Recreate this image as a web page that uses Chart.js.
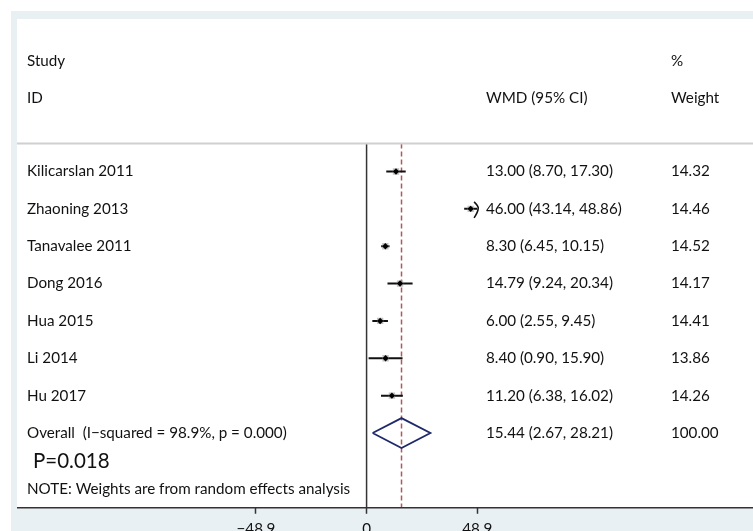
<!DOCTYPE html>
<html>
<head>
<meta charset="utf-8">
<script src="https://cdn.jsdelivr.net/npm/chart.js@4.4.0/dist/chart.umd.min.js"></script>
<style>
  html, body { margin: 0; padding: 0; overflow: hidden; background: #fff; }
  canvas { display: block; }
</style>
</head>
<body>
<canvas id="forestChart" width="753" height="544"></canvas>
<script>
// Study data
const studies = ['Kilicarslan 2011', 'Zhaoning 2013', 'Tanavalee 2011', 'Dong 2016', 'Hua 2015', 'Li 2014', 'Hu 2017'];
const wmd = [13.00, 46.00, 8.30, 14.79, 6.00, 8.40, 11.20];
const lower = [8.70, 43.14, 6.45, 9.24, 2.55, 0.90, 6.38];
const upper = [17.30, 48.86, 10.15, 20.34, 9.45, 15.90, 16.02];
const weights = ['14.32', '14.46', '14.52', '14.17', '14.41', '13.86', '14.26'];

// Pooled estimate
const overallWmd = 15.44;
const overallLower = 2.67;
const overallUpper = 28.21;
const overallWeight = '100.00';
const overallLabel = 'Overall  (I\u2212squared = 98.9%, p = 0.000)';

const xTicks = [-48.9, 0, 48.9];

const FONT = 'Lato';
const TEXT = '#111';

function fmt(v) { return v.toFixed(2); }

const overallRow = studies.length;

// one line per confidence interval
const ciSets = studies.map((s, i) => ({
    type: 'line',
    data: [{ x: lower[i], y: i }, { x: upper[i], y: i }],
    borderColor: '#111',
    borderWidth: 2,
    pointRadius: 0,
    order: 2
}));

const textPlugin = {
    id: 'forestText',
    beforeDraw(chart) {
        const c = chart.ctx;
        c.save();
        c.fillStyle = '#ffffff';
        c.fillRect(0, 0, chart.width, chart.height);
        c.fillStyle = '#e8f0f3';
        c.fillRect(11, 11, chart.width - 11, chart.height - 11);
        c.fillStyle = '#ffffff';
        c.fillRect(17, 19, chart.width - 17, chart.chartArea.bottom - 19);
        c.restore();
    },
    afterDatasetsDraw(chart) {
        const c = chart.ctx;
        const y = chart.scales.y;
        const x = chart.scales.x;
        c.save();
        c.fillStyle = TEXT;
        c.textBaseline = 'middle';
        c.font = '15.2px ' + FONT;

        // header
        c.fillText('Study', 27, y.getPixelForValue(-2.95));
        c.fillText('ID', 27, y.getPixelForValue(-1.96));
        c.fillText('%', 671, y.getPixelForValue(-2.95));
        c.fillText('Weight', 671, y.getPixelForValue(-1.96));
        c.fillText('WMD (95% CI)', 486, y.getPixelForValue(-1.96));

        // header separator
        c.strokeStyle = '#d0d0d0';
        c.lineWidth = 2;
        c.beginPath();
        const sy = y.getPixelForValue(-0.75);
        c.moveTo(17, sy);
        c.lineTo(chart.width, sy);
        c.stroke();

        studies.forEach((s, i) => {
            const py = y.getPixelForValue(i);
            c.fillText(s, 27, py);
            c.fillText(fmt(wmd[i]) + ' (' + fmt(lower[i]) + ', ' + fmt(upper[i]) + ')', 486, py);
            c.fillText(weights[i], 671, py);
        });

        const oy = y.getPixelForValue(overallRow);
        c.fillText(overallLabel, 27, oy);
        c.fillText(fmt(overallWmd) + ' (' + fmt(overallLower) + ', ' + fmt(overallUpper) + ')', 486, oy);
        c.fillText(overallWeight, 671, oy);

        c.font = '20.5px ' + FONT;
        c.fillText('P=0.018', 33, y.getPixelForValue(overallRow + 0.75));
        c.font = '15.2px ' + FONT;
        c.fillText('NOTE: Weights are from random effects analysis', 27, y.getPixelForValue(overallRow + 1.51));

        // arrow where a CI runs past the plotted range
        upper.forEach((u, i) => {
            if (u > xTicks[2] - 0.1) {
                const ax = x.getPixelForValue(u);
                const ay = y.getPixelForValue(i);
                c.strokeStyle = '#111';
                c.lineWidth = 1.6;
                c.beginPath();
                c.moveTo(ax - 3, ay - 7);
                c.quadraticCurveTo(ax + 2, ay - 2, ax + 1, ay);
                c.quadraticCurveTo(ax + 1, ay + 3, ax - 3, ay + 9);
                c.stroke();
            }
        });

        // axis line across the full width
        c.strokeStyle = '#333';
        c.lineWidth = 1.5;
        c.beginPath();
        c.moveTo(17, chart.chartArea.bottom);
        c.lineTo(chart.width, chart.chartArea.bottom);
        c.stroke();
        c.restore();
    }
};

const ctx = document.getElementById('forestChart').getContext('2d');
const forestChart = new Chart(ctx, {
    type: 'scatter',
    data: {
        datasets: [
            // null line
            {
                type: 'line',
                data: [{ x: 0, y: -0.75 }, { x: 0, y: overallRow + 2 }],
                borderColor: '#333',
                borderWidth: 1.5,
                pointRadius: 0,
                order: 4
            },
            // pooled estimate line
            {
                type: 'line',
                data: [{ x: overallWmd, y: -0.75 }, { x: overallWmd, y: overallRow + 2 }],
                borderColor: '#b5565a',
                borderWidth: 1.5,
                borderDash: [5, 3],
                pointRadius: 0,
                order: 3
            },
            ...ciSets,
            // weight boxes
            {
                data: wmd.map((v, i) => ({ x: v, y: i })),
                pointStyle: 'rect',
                pointRadius: 4.5,
                backgroundColor: 'rgba(170,170,170,0.7)',
                borderWidth: 0,
                order: 1
            },
            // point estimates
            {
                data: wmd.map((v, i) => ({ x: v, y: i })),
                pointStyle: 'rectRot',
                pointRadius: 3.2,
                backgroundColor: '#000',
                borderWidth: 0,
                order: 0
            },
            // overall diamond
            {
                type: 'line',
                data: [
                    { x: overallLower, y: overallRow },
                    { x: overallWmd, y: overallRow - 0.4 },
                    { x: overallUpper, y: overallRow },
                    { x: overallWmd, y: overallRow + 0.4 },
                    { x: overallLower, y: overallRow }
                ],
                borderColor: '#1f2a6b',
                borderWidth: 1.8,
                pointRadius: 0,
                tension: 0,
                order: 0
            }
        ]
    },
    options: {
        responsive: false,
        animation: false,
        devicePixelRatio: 1,
        layout: { padding: { top: 22, left: 17, right: 0, bottom: 0 } },
        plugins: {
            legend: { display: false },
            tooltip: { enabled: false }
        },
        scales: {
            x: {
                type: 'linear',
                min: -154.5,
                max: 168.8,
                afterBuildTicks: (axis) => { axis.ticks = xTicks.map(v => ({ value: v })); },
                grid: {
                    drawOnChartArea: false,
                    drawTicks: true,
                    tickLength: 6,
                    tickWidth: 1.5,
                    color: '#333'
                },
                border: { display: false },
                ticks: {
                    padding: 6,
                    color: TEXT,
                    font: { family: FONT, size: 15.2 },
                    maxRotation: 0,
                    autoSkip: false,
                    callback: (v) => (v < 0 ? '\u2212' + Math.abs(v) : String(v))
                }
            },
            y: {
                display: false,
                min: -4,
                max: overallRow + 2,
                reverse: true
            }
        }
    },
    plugins: [textPlugin]
});
</script>
</body>
</html>
